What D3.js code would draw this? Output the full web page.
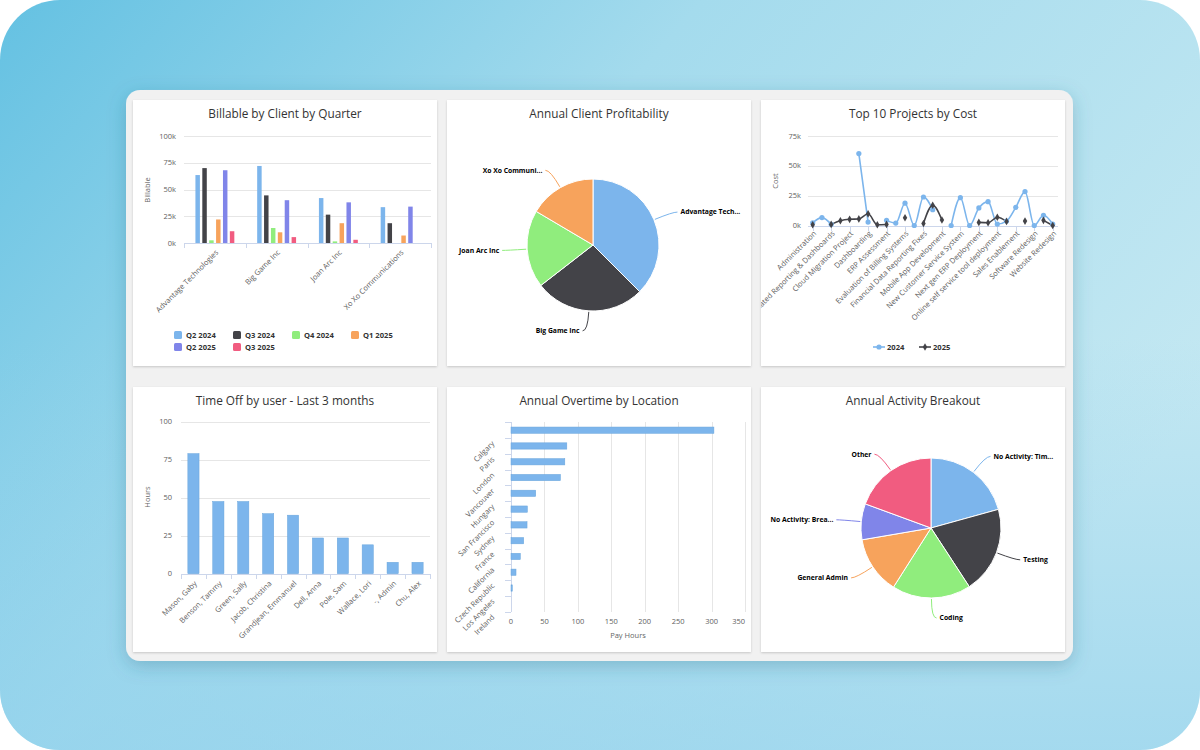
<!DOCTYPE html>
<html lang="en">
<head>
<meta charset="utf-8">
<title>dashboard</title>
<script src="https://cdn.jsdelivr.net/npm/d3@7"></script>
<style>
body{margin:0;background:#fff;}
svg text{font-family:"Open Sans",sans-serif;}
.title{font-size:11.8px;fill:#333;text-anchor:middle;}
.tick{font-size:7.5px;fill:#606060;}
.axtitle{font-size:7.5px;fill:#666;text-anchor:middle;}
.legend{font-size:7.6px;font-weight:bold;fill:#333;}
.plabel{font-size:6.8px;font-weight:bold;fill:#000;}
</style>
</head>
<body>
<svg id="chart" width="1200" height="750"></svg>
<script>
// highcharts default colours
var palette = ["#7cb5ec","#434348","#90ed7d","#f7a35c","#8085e9","#f15c80"]

// --- Billable by Client by Quarter
var quarters = ["Q2 2024","Q3 2024","Q4 2024","Q1 2025","Q2 2025","Q3 2025"]
var billClients = ["Advantage Technologies","Big Game Inc","Joan Arc Inc","Xo Xo Communications"]
var billQ2_2024 = [63500, 72000, 42000, 33500]
var billQ3_2024 = [70000, 44500, 26500, 18500]
var billQ4_2024 = [2500, 14000, 1500, 0]
var billQ1_2025 = [22000, 10000, 18500, 7000]
var billQ2_2025 = [68000, 40000, 38000, 34000]
var billQ3_2025 = [11000, 5500, 3000, 0]
var billTicks = [0, 25000, 50000, 75000, 100000]

// --- Annual Client Profitability
var profitLabels = ["Advantage Tech...","Big Game Inc","Joan Arc Inc","Xo Xo Communi..."]
var profitValues = [37.5, 27, 19, 16.5]

// --- Top 10 Projects by Cost (27 projects, every 2nd label shown)
var projLabels = ["Administration","Automated Reporting & Dashboards","Cloud Migration Project","Dashboarding",
  "ERP Assessment","Evaluation of Billing Systems","Financial Data Reporting Fixes","Mobile App Development",
  "New Customer Service System","Next gen ERP Deployment","Online self service tool deployment",
  "Sales Enablement","Software Redesign","Website Redesign"]
var cost2024 = [2300, 6600, 1000, null, null, 60300, 2900, null, 4300, 2000, 18700, 0, 23900, 13200,
  null, 0, 23300, 0, 14700, 20000, 1200, 3700, 15200, 28400, 0, 8600, 1200]
var cost2025 = [600, null, 900, 4000, 5200, 5500, 9800, 600, 900, null, 6500, null, 1700, 17000,
  4600, null, null, null, 2600, 2300, 6900, 3400, null, 3700, null, 4300, 0]
var costTicks = [0, 25000, 50000, 75000]

// --- Time Off by user
var users = ["Mason, Gaby","Benson, Tammy","Green, Sally","Jacob, Christina","Grandjean, Emmanuel",
  "Dell, Anna","Pole, Sam","Wallace, Lori","-, Admin","Chu, Alex"]
var hours = [79, 47.5, 47.5, 39.5, 38.5, 23.5, 23.5, 19, 7.5, 7.5]
var hourTicks = [0, 25, 50, 75, 100]

// --- Annual Overtime by Location
var locations = ["Calgary","Paris","London","Vancouver","Hungary","San Francisco","Sydney","France",
  "California","Czech Republic","Los Angeles","Ireland"]
var overtime = [303.5, 83.5, 80.5, 74, 37, 24.5, 24, 19, 14, 7.5, 2, 0]
var payTicks = [0, 50, 100, 150, 200, 250, 300, 350]

// --- Annual Activity Breakout
var activityLabels = ["No Activity: Tim...","Testing","Coding","General Admin","No Activity: Brea...","Other"]
var activityValues = [20.7, 20.1, 18.2, 13.3, 8.3, 19.4]

var svg = d3.select("#chart")
var defs = svg.append("defs")

var bgGrad = defs.append("linearGradient").attr("id","bgGrad")
  .attr("x1",0).attr("y1",0).attr("x2",1).attr("y2",0.55)
bgGrad.append("stop").attr("offset",0).attr("stop-color","#64c1e2")
bgGrad.append("stop").attr("offset",0.45).attr("stop-color","#a4dbed")
bgGrad.append("stop").attr("offset",1).attr("stop-color","#c4e8f2")
var bgGrad2 = defs.append("linearGradient").attr("id","bgGrad2")
  .attr("x1",0).attr("y1",0).attr("x2",0).attr("y2",1)
bgGrad2.append("stop").attr("offset",0.45).attr("stop-color","#8fd0ec").attr("stop-opacity",0)
bgGrad2.append("stop").attr("offset",1).attr("stop-color","#8fd0ec").attr("stop-opacity",0.6)

var cardShadow = defs.append("filter").attr("id","cardShadow")
  .attr("x",-0.1).attr("y",-0.1).attr("width",1.2).attr("height",1.3)
cardShadow.append("feDropShadow").attr("dx",0).attr("dy",5).attr("stdDeviation",9)
  .attr("flood-color","#2f6a82").attr("flood-opacity",0.3)
var panelShadow = defs.append("filter").attr("id","panelShadow")
  .attr("x",-0.05).attr("y",-0.05).attr("width",1.1).attr("height",1.1)
panelShadow.append("feDropShadow").attr("dx",0).attr("dy",1).attr("stdDeviation",0.8)
  .attr("flood-color","#000").attr("flood-opacity",0.18)

svg.append("rect").attr("width",1200).attr("height",750).attr("rx",60).attr("fill","url(#bgGrad)")
svg.append("rect").attr("width",1200).attr("height",750).attr("rx",60).attr("fill","url(#bgGrad2)")
svg.append("rect").attr("x",126).attr("y",90).attr("width",947).attr("height",571).attr("rx",14)
  .attr("fill","#f1f1f1").attr("filter","url(#cardShadow)")

// panel frame with title, returns clipped group
function panel(id, x, y, w, h, title){
  defs.append("clipPath").attr("id","clip"+id).append("rect")
    .attr("x",x).attr("y",y).attr("width",w).attr("height",h)
  svg.append("rect").attr("x",x).attr("y",y).attr("width",w).attr("height",h)
    .attr("fill","#fff").attr("filter","url(#panelShadow)")
  var g = svg.append("g").attr("clip-path","url(#clip"+id+")")
  g.append("text").attr("class","title").attr("x",x+w/2).attr("y",y+17.5).text(title)
  return g
}

function hGrid(g, y, ticks, x1, x2, fmt, lx){
  g.selectAll(null).data(ticks).enter().append("line")
    .attr("x1",x1).attr("x2",x2)
    .attr("y1",function(d){return Math.round(y(d))+0.5})
    .attr("y2",function(d){return Math.round(y(d))+0.5})
    .attr("stroke","#e6e6e6")
  g.selectAll(null).data(ticks).enter().append("text")
    .attr("class","tick").attr("text-anchor","end")
    .attr("x",lx).attr("y",function(d){return y(d)}).attr("dy","0.35em")
    .text(fmt)
}

function yTitle(g, x, y, txt){
  g.append("text").attr("class","axtitle")
    .attr("transform","translate("+x+","+y+") rotate(-90)").text(txt)
}

// bottom axis line with tick marks
function xAxisLine(g, x1, x2, y, tickXs){
  g.append("line").attr("x1",x1).attr("x2",x2).attr("y1",y+0.5).attr("y2",y+0.5).attr("stroke","#ccd6eb")
  g.selectAll(null).data(tickXs).enter().append("line")
    .attr("x1",function(d){return Math.round(d)+0.5}).attr("x2",function(d){return Math.round(d)+0.5})
    .attr("y1",y).attr("y2",y+5).attr("stroke","#ccd6eb")
}
function rotLabels(g, items, xf, y){
  g.selectAll(null).data(items).enter().append("text")
    .attr("class","tick").attr("text-anchor","end")
    .attr("transform",function(d,i){return "translate("+(xf(d,i)+4)+","+(y+10)+") rotate(-45)"})
    .text(function(d){return d})
}

function pieChart(g, cx, cy, r, labels, values){
  var arcs = d3.pie().sort(null)(values)
  var arc = d3.arc().innerRadius(0).outerRadius(r)
  g.selectAll(null).data(arcs).enter().append("path")
    .attr("transform","translate("+cx+","+cy+")")
    .attr("d",arc)
    .attr("fill",function(d,i){return palette[i]})
    .attr("stroke","#fff").attr("stroke-width",1).attr("stroke-linejoin","round")
  arcs.forEach(function(d,i){
    var a = (d.startAngle+d.endAngle)/2
    var s = Math.sin(a), c = Math.cos(a)
    var ex = cx+(r+1)*s, ey = cy-(r+1)*c
    var lx = cx+(r+20)*s, ly = cy-(r+20)*c
    var right = s >= 0
    var tx = right ? lx+8 : lx-8
    g.append("path")
      .attr("d","M"+ex+","+ey+" Q"+lx+","+ly+" "+(right ? tx-3 : tx+3)+","+ly)
      .attr("fill","none").attr("stroke",palette[i]).attr("stroke-width",1)
    g.append("text").attr("class","plabel")
      .attr("x",tx).attr("y",ly).attr("dy","0.35em")
      .attr("text-anchor",right ? "start" : "end")
      .style("paint-order","stroke").attr("stroke","#fff").attr("stroke-width",1.5)
      .text(labels[i])
  })
}

// ================= panel 1: Billable by Client by Quarter
var g1 = panel(1, 133, 100, 304, 266, "Billable by Client by Quarter")
var billY = d3.scaleLinear().domain([0,100000]).range([243,136])
var billX = d3.scaleBand().domain(billClients).range([184,431])
var bw = billX.bandwidth()
var billInner = d3.scaleBand().domain(quarters).range([bw*0.185, bw*0.815]).paddingInner(0.35)
var billSeries = [billQ2_2024, billQ3_2024, billQ4_2024, billQ1_2025, billQ2_2025, billQ3_2025]
hGrid(g1, billY, billTicks, 184, 431, function(d){return d/1000+"k"}, 176)
yTitle(g1, 150, 190, "Billable")
billSeries.forEach(function(vals, si){
  g1.selectAll(null).data(vals).enter().append("rect")
    .attr("x",function(d,i){return billX(billClients[i])+billInner(quarters[si])})
    .attr("y",function(d){return billY(d)})
    .attr("width",billInner.bandwidth())
    .attr("height",function(d){return billY(0)-billY(d)})
    .attr("fill",palette[si])
})
xAxisLine(g1, 184, 431, 243, billClients.map(function(d){return billX(d)}).concat([431]))
rotLabels(g1, billClients, function(d){return billX(d)+bw/2}, 243)
var leg1 = g1.selectAll(null).data(quarters).enter().append("g")
  .attr("transform",function(d,i){return "translate("+(174+(i%4)*59)+","+(335+Math.floor(i/4)*12)+")"})
leg1.append("rect").attr("x",0).attr("y",-4).attr("width",8).attr("height",8).attr("rx",1.5)
  .attr("fill",function(d,i){return palette[i]})
leg1.append("text").attr("class","legend").attr("x",12).attr("dy","0.35em").text(function(d){return d})

// ================= panel 2: Annual Client Profitability
var g2 = panel(2, 447, 100, 304, 266, "Annual Client Profitability")
pieChart(g2, 593, 245, 66, profitLabels, profitValues)

// ================= panel 3: Top 10 Projects by Cost
var g3 = panel(3, 761, 100, 304, 266, "Top 10 Projects by Cost")
var costY = d3.scaleLinear().domain([0,75000]).range([225.5,136])
var costX = d3.scalePoint().domain(d3.range(cost2024.length)).range([812.7,1052.7])
hGrid(g3, costY, costTicks, 808, 1058, function(d){return d/1000+"k"}, 801)
yTitle(g3, 778, 181, "Cost")
var labelIdx = projLabels.map(function(d,i){return i*2})
xAxisLine(g3, 808, 1058, 226, labelIdx.map(function(i){return costX(i)}))
rotLabels(g3, projLabels, function(d,i){return costX(i*2)}, 224)
var costLine = d3.line()
  .defined(function(d){return d != null})
  .x(function(d,i){return costX(i)})
  .y(function(d){return costY(d)})
  .curve(d3.curveMonotoneX)
g3.append("path").attr("d",costLine(cost2024)).attr("fill","none").attr("stroke",palette[0]).attr("stroke-width",1.6)
g3.append("path").attr("d",costLine(cost2025)).attr("fill","none").attr("stroke",palette[1]).attr("stroke-width",1.6)
cost2024.forEach(function(d,i){
  if(d == null) return
  g3.append("circle").attr("cx",costX(i)).attr("cy",costY(d)).attr("r",2.6).attr("fill",palette[0])
})
var diamond = d3.symbol().type(d3.symbolDiamond).size(17)
cost2025.forEach(function(d,i){
  if(d == null) return
  g3.append("path").attr("d",diamond()).attr("transform","translate("+costX(i)+","+costY(d)+")").attr("fill",palette[1])
})
var leg3 = [["2024",873,palette[0]],["2025",919,palette[1]]]
leg3.forEach(function(l,i){
  g3.append("line").attr("x1",l[1]).attr("x2",l[1]+12).attr("y1",347).attr("y2",347).attr("stroke",l[2]).attr("stroke-width",1.6)
  if(i==0) g3.append("circle").attr("cx",l[1]+6).attr("cy",347).attr("r",2.6).attr("fill",l[2])
  else g3.append("path").attr("d",diamond()).attr("transform","translate("+(l[1]+6)+",347)").attr("fill",l[2])
  g3.append("text").attr("class","legend").attr("x",l[1]+14).attr("y",347).attr("dy","0.35em").text(l[0])
})

// ================= panel 4: Time Off by user
var g4 = panel(4, 133, 387, 304, 265, "Time Off by user - Last 3 months")
var hourY = d3.scaleLinear().domain([0,100]).range([573.7,421.7])
var userX = d3.scaleBand().domain(users).range([181,430]).paddingInner(0.55).paddingOuter(0.275)
hGrid(g4, hourY, hourTicks, 181, 430, function(d){return d}, 172)
yTitle(g4, 150, 497, "Hours")
g4.selectAll(null).data(hours).enter().append("rect")
  .attr("x",function(d,i){return userX(users[i])})
  .attr("y",function(d){return hourY(d)})
  .attr("width",userX.bandwidth())
  .attr("height",function(d){return hourY(0)-hourY(d)})
  .attr("fill",palette[0]).attr("stroke","#6aa5dc").attr("stroke-width",0.5)
var step4 = userX.step()
xAxisLine(g4, 181, 430, 574, d3.range(users.length+1).map(function(i){return 181+i*step4}))
rotLabels(g4, users, function(d){return userX(d)+userX.bandwidth()/2}, 574)

// ================= panel 5: Annual Overtime by Location
var g5 = panel(5, 447, 387, 304, 265, "Annual Overtime by Location")
var payX = d3.scaleLinear().domain([0,350]).range([511,745])
var locY = d3.scaleBand().domain(locations).range([422.3,611.7]).paddingInner(0.6).paddingOuter(0.3)
g5.selectAll(null).data(payTicks.slice(1)).enter().append("line")
  .attr("x1",function(d){return Math.round(payX(d))+0.5}).attr("x2",function(d){return Math.round(payX(d))+0.5})
  .attr("y1",422).attr("y2",612).attr("stroke","#e6e6e6")
g5.selectAll(null).data(payTicks).enter().append("text")
  .attr("class","tick")
  .attr("text-anchor",function(d,i){return i==payTicks.length-1 ? "end" : "middle"})
  .attr("x",function(d){return payX(d)}).attr("y",621).attr("dy","0.35em").text(function(d){return d})
g5.append("text").attr("class","axtitle").attr("x",628).attr("y",635).attr("dy","0.35em").text("Pay Hours")
g5.append("line").attr("x1",511.5).attr("x2",511.5).attr("y1",422).attr("y2",612).attr("stroke","#ccd6eb")
var step5 = locY.step()
g5.selectAll(null).data(d3.range(locations.length+1)).enter().append("line")
  .attr("x1",505).attr("x2",511)
  .attr("y1",function(i){return Math.round(422.3+i*step5)+0.5}).attr("y2",function(i){return Math.round(422.3+i*step5)+0.5})
  .attr("stroke","#ccd6eb")
g5.selectAll(null).data(overtime).enter().append("rect")
  .attr("x",payX(0))
  .attr("y",function(d,i){return locY(locations[i])})
  .attr("width",function(d){return payX(d)-payX(0)})
  .attr("height",locY.bandwidth())
  .attr("fill",palette[0]).attr("stroke","#6aa5dc").attr("stroke-width",0.5)
g5.selectAll(null).data(locations).enter().append("text")
  .attr("class","tick").attr("text-anchor","end")
  .attr("transform",function(d){return "translate(495,"+(locY(d)+locY.bandwidth()/2+14)+") rotate(-45)"})
  .text(function(d){return d})

// ================= panel 6: Annual Activity Breakout
var g6 = panel(6, 761, 387, 304, 265, "Annual Activity Breakout")
pieChart(g6, 931, 528, 70, activityLabels, activityValues)
</script>
</body>
</html>
